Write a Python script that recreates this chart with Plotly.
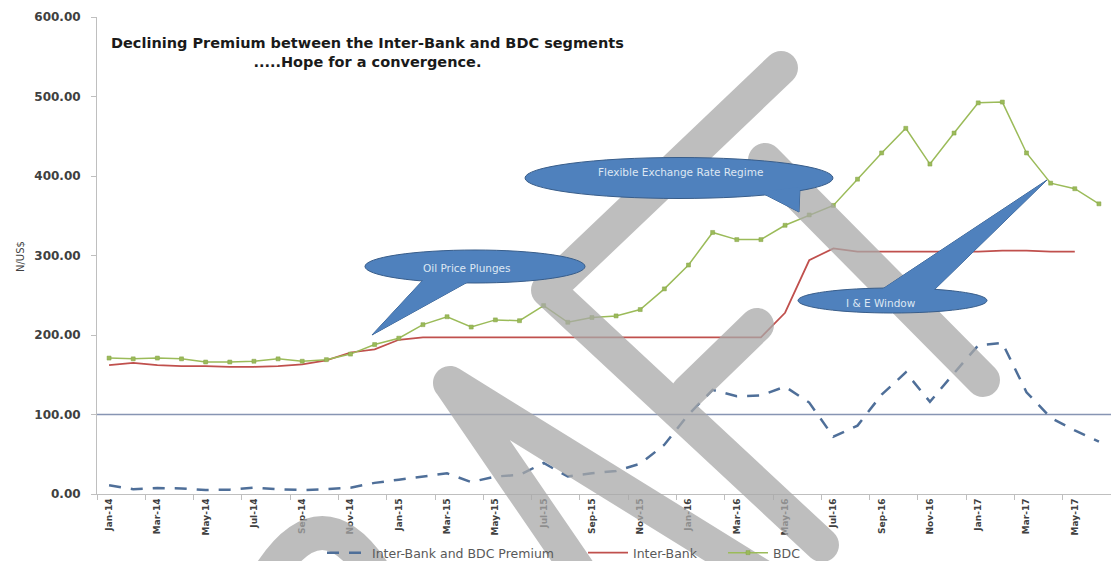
import plotly.graph_objects as go

# monthly exchange rates, Jan-14 .. Jun-17 (N/US$)
months = ['Jan-14', 'Feb-14', 'Mar-14', 'Apr-14', 'May-14', 'Jun-14', 'Jul-14', 'Aug-14',
          'Sep-14', 'Oct-14', 'Nov-14', 'Dec-14', 'Jan-15', 'Feb-15', 'Mar-15', 'Apr-15',
          'May-15', 'Jun-15', 'Jul-15', 'Aug-15', 'Sep-15', 'Oct-15', 'Nov-15', 'Dec-15',
          'Jan-16', 'Feb-16', 'Mar-16', 'Apr-16', 'May-16', 'Jun-16', 'Jul-16', 'Aug-16',
          'Sep-16', 'Oct-16', 'Nov-16', 'Dec-16', 'Jan-17', 'Feb-17', 'Mar-17', 'Apr-17',
          'May-17', 'Jun-17']

premium = [11, 6, 7.5, 7, 5, 5.5, 8, 6, 5, 6, 8, 14, 18, 22, 26, 15, 22, 24, 39, 22,
           26, 29, 38, 62, 100, 131, 123, 124, 135, 115, 72, 86, 125, 153, 116, 152,
           187, 190, 128, 96, 80, 66]

inter_bank = [162, 165, 162, 161, 161, 160, 160, 161, 163, 168, 178, 182, 194, 197, 197,
              197, 197, 197, 197, 197, 197, 197, 197, 197, 197, 197, 197, 197, 228, 294,
              309, 305, 305, 305, 305, 305, 305, 306, 306, 305, 305, None]

bdc = [171, 170, 171, 170, 166, 166, 167, 170, 167, 169, 176, 188, 196, 213, 223, 210,
       219, 218, 237, 216, 222, 224, 232, 258, 288, 329, 320, 320, 338, 351, 363, 396,
       429, 460, 415, 454, 492, 493, 429, 391, 384, 365]

x = list(range(len(months)))

# the page puts the figure 8px in from the top-left corner, so the figure is
# sized to end at the window edge; layout below is given in window pixels
OFF = 8
W, H = 1119 - OFF, 561 - OFF
L, R, T, B = 97, 1111, 17, 494


def pp(px, py):
    return (px - L) / (R - L), (B - py) / (B - T)


def fmt(px, py):
    a, b = pp(px, py)
    return '%.5f,%.5f' % (a, b)


def stadium(p, q, w):
    # band from p to q with rounded ends, as a closed path
    k = 0.5523
    dx, dy = q[0] - p[0], q[1] - p[1]
    ln = (dx * dx + dy * dy) ** 0.5
    d = (dx / ln, dy / ln)
    n = (-d[1], d[0])

    def pt(c, a, b):
        return (c[0] + a * d[0] * w + b * n[0] * w, c[1] + a * d[1] * w + b * n[1] * w)

    s = 'M' + fmt(*pt(p, 0, 1))
    s += ' L' + fmt(*pt(q, 0, 1))
    s += ' C' + fmt(*pt(q, k, 1)) + ' ' + fmt(*pt(q, 1, k)) + ' ' + fmt(*pt(q, 1, 0))
    s += ' C' + fmt(*pt(q, 1, -k)) + ' ' + fmt(*pt(q, k, -1)) + ' ' + fmt(*pt(q, 0, -1))
    s += ' L' + fmt(*pt(p, 0, -1))
    s += ' C' + fmt(*pt(p, -k, -1)) + ' ' + fmt(*pt(p, -1, -k)) + ' ' + fmt(*pt(p, -1, 0))
    s += ' C' + fmt(*pt(p, -1, k)) + ' ' + fmt(*pt(p, -k, 1)) + ' ' + fmt(*pt(p, 0, 1))
    return s + ' Z'


fig = go.Figure()

fig.add_trace(go.Scatter(
    x=x, y=premium, name='Inter-Bank and BDC Premium', mode='lines', legend='legend',
    line=dict(color='#4F6F99', width=2.5, dash='12px,10px')
))
fig.add_trace(go.Scatter(
    x=x, y=inter_bank, name='Inter-Bank', mode='lines', legend='legend2',
    line=dict(color='#C0504D', width=1.75)
))
fig.add_trace(go.Scatter(
    x=x, y=bdc, name='BDC', mode='lines+markers', legend='legend3',
    line=dict(color='#9BBB59', width=1.5),
    marker=dict(symbol='square', size=4, color='#9BBB59', line=dict(color='#86A348', width=0.5))
))

shapes = []

# reference line at 100
shapes.append(dict(type='line', xref='paper', yref='y', x0=0, x1=1, y0=100, y1=100,
                   line=dict(color='#8795B3', width=1.5), layer='below'))

# grey "draft" watermark strokes
bands = [((781, 68), (548, 290)), ((548, 290), (822, 545)), ((688, 392), (757, 325)),
         ((765, 160), (983, 380)), ((450, 383), (585, 580)), ((450, 383), (760, 575))]
shapes.append(dict(type='path', xref='paper', yref='paper',
                   path=' '.join(stadium(p, q, 17) for p, q in bands),
                   fillcolor='#A8A8A8', opacity=0.75, line=dict(width=0),
                   fillrule='nonzero', layer='above'))
shapes.append(dict(type='path', xref='paper', yref='paper',
                   path='M' + fmt(255, 600) + ' Q' + fmt(322, 466) + ' ' + fmt(390, 600),
                   line=dict(color='#A8A8A8', width=34), opacity=0.75, layer='above'))

# callouts: ellipse + pointer
callouts = [
    ((475, 266.5), (110, 16.5), [(425, 278), (475, 278), (372, 335)]),
    ((679, 178), (154, 20.5), [(760, 192), (800, 187), (799, 212)]),
    ((892.5, 300.5), (94.5, 12.5), [(878, 292), (932, 292), (1047, 180)]),
]
blue, edge = '#4F81BD', '#385D8A'
for (cx, cy), (rx, ry), tri in callouts:
    tri_path = 'M' + fmt(*tri[0]) + ' L' + fmt(*tri[2]) + ' L' + fmt(*tri[1]) + ' Z'
    shapes.append(dict(type='path', xref='paper', yref='paper', path=tri_path,
                       fillcolor=blue, line=dict(color=edge, width=1), layer='above'))
    x0, y0 = pp(cx - rx, cy + ry)
    x1, y1 = pp(cx + rx, cy - ry)
    shapes.append(dict(type='circle', xref='paper', yref='paper', x0=x0, x1=x1, y0=y0, y1=y1,
                       fillcolor=blue, line=dict(color=edge, width=1), layer='above'))
    shapes.append(dict(type='path', xref='paper', yref='paper', path=tri_path,
                       fillcolor=blue, line=dict(width=0), layer='above'))

annotations = []
tx, ty = pp(367, 53)
annotations.append(dict(
    x=tx, y=ty, xref='paper', yref='paper', xanchor='center', yanchor='middle',
    showarrow=False, align='center',
    text='Declining Premium between the Inter-Bank and BDC segments<br>.....Hope for a convergence.',
    font=dict(family='DejaVu Sans', size=14.5, color='#1A1A1A', weight='bold')
))
for label, (lx, ly) in [('Oil Price Plunges', (467, 268)),
                        ('Flexible Exchange Rate Regime', (680, 172)),
                        ('I & E Window', (881, 303))]:
    ax_, ay_ = pp(lx, ly)
    annotations.append(dict(x=ax_, y=ay_, xref='paper', yref='paper', xanchor='center',
                            yanchor='middle', showarrow=False, text=label,
                            font=dict(family='DejaVu Sans', size=10.5, color='#DDE7F3')))
yx, yy = pp(20, 257)
annotations.append(dict(x=yx, y=yy, xref='paper', yref='paper', xanchor='center',
                        yanchor='middle', showarrow=False, textangle=-90, text='N/US$',
                        font=dict(family='DejaVu Sans', size=10, color='#404040')))


def legend_at(px):
    lx, ly = pp(px, 553)
    return dict(orientation='h', x=lx, y=ly, xanchor='left', yanchor='middle',
                font=dict(family='DejaVu Sans', size=12.5, color='#595959'),
                itemwidth=40, bgcolor='rgba(0,0,0,0)')


fig.update_layout(
    width=W, height=H,
    margin=dict(l=L - OFF, r=1119 - R, t=T - OFF, b=561 - B, autoexpand=False),
    paper_bgcolor='white', plot_bgcolor='white',
    showlegend=True,
    legend=legend_at(322), legend2=legend_at(583), legend3=legend_at(723),
    shapes=shapes,
    annotations=annotations,
)

fig.update_xaxes(
    range=[-0.5, len(months) - 0.5],
    tickmode='array', tickvals=x[::2], ticktext=months[::2], tickangle=-90,
    ticks='', showgrid=False, zeroline=False,
    showline=True, linecolor='#BFBFBF', linewidth=1,
    tickfont=dict(family='DejaVu Sans', size=9, color='#404040', weight='bold'),
    minor=dict(tickmode='array', tickvals=[i - 0.5 for i in range(0, len(months) + 1, 2)],
               ticks='outside', ticklen=5, tickcolor='#BFBFBF', showgrid=False),
)
fig.update_yaxes(
    range=[0, 600], dtick=100, tickformat='.2f',
    ticks='outside', ticklen=5, tickcolor='#BFBFBF', ticklabelstandoff=8,
    showgrid=False, zeroline=False,
    showline=True, linecolor='#BFBFBF', linewidth=1,
    tickfont=dict(family='DejaVu Sans', size=12, color='#404040', weight='bold'),
)

fig.write_html('out.html')
